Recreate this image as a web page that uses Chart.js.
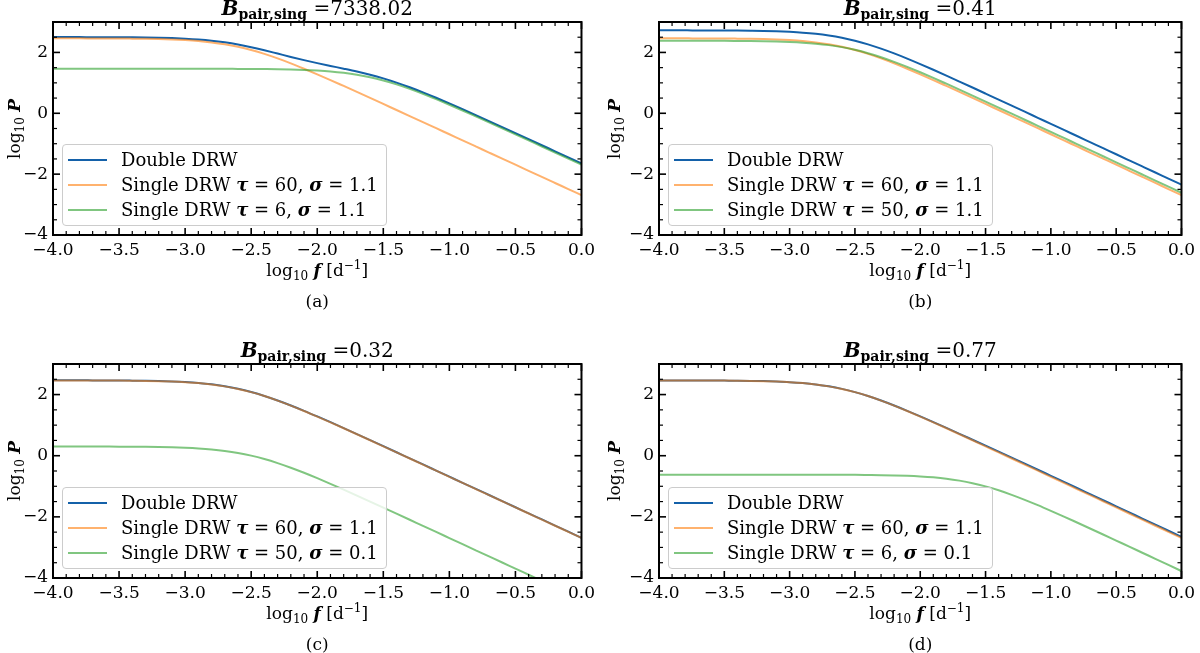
<!DOCTYPE html>
<html>
<head>
<meta charset="utf-8">
<title>DRW power spectra</title>
<script src="https://cdn.jsdelivr.net/npm/chart.js@4.4.1/dist/chart.umd.min.js"></script>
<style>
  html, body { margin: 0; padding: 0; background: #fff; }
  #page { position: relative; width: 1200px; height: 653px; overflow: hidden;
          font-family: 'DejaVu Serif', serif; color: #000; }
  .panel { position: absolute; width: 600px; height: 326px; }
  .txt { position: absolute; white-space: nowrap; line-height: 20px; font-size: 17px; }
  .title { font-size: 20px; line-height: 24px; transform: translateX(-50%); }
  .title sub { font-size: 14px; font-weight: bold; position: relative; top: 4px; vertical-align: baseline; }
  .xlab, .plab { transform: translateX(-50%); }
  .ylab { transform: translate(-50%, -50%) rotate(-90deg); }
  sub, sup { font-size: 12px; line-height: 0; }
  .legend { position: absolute; transform: translateY(-100%); background: rgba(255,255,255,0.8);
            border: 1px solid #cccccc; border-radius: 4px; padding: 2px 8px 3px 5px; font-size: 18px; }
  .legend .row { height: 25px; display: flex; align-items: center; white-space: nowrap; }
  .legend .sw { display: inline-block; width: 39px; height: 2px; margin-right: 14px; }
</style>
</head>
<body>
<div id="page"></div>
<script>
// log10 f grid shared by every curve
const logF = [-4.0, -3.9, -3.8, -3.7, -3.6, -3.5, -3.4, -3.3, -3.2, -3.1, -3.0,
  -2.9, -2.8, -2.7, -2.6, -2.5, -2.4, -2.3, -2.2, -2.1, -2.0,
  -1.9, -1.8, -1.7, -1.6, -1.5, -1.4, -1.3, -1.2, -1.1, -1.0,
  -0.9, -0.8, -0.7, -0.6, -0.5, -0.4, -0.3, -0.2, -0.1, 0.0];

// log10 P
const single60s11 = [2.462, 2.462, 2.462, 2.461, 2.459, 2.457, 2.453, 2.448, 2.439, 2.426, 2.405,
  2.375, 2.330, 2.268, 2.185, 2.079, 1.951, 1.803, 1.640, 1.464, 1.281,
  1.092, 0.898, 0.703, 0.506, 0.307, 0.108, -0.091, -0.290, -0.490, -0.690,
  -0.890, -1.090, -1.290, -1.490, -1.690, -1.890, -2.090, -2.290, -2.490, -2.690];
const single6s11 = [1.463, 1.463, 1.463, 1.463, 1.463, 1.463, 1.463, 1.463, 1.463, 1.463, 1.462,
  1.462, 1.462, 1.461, 1.459, 1.457, 1.453, 1.448, 1.439, 1.426, 1.405,
  1.375, 1.330, 1.268, 1.185, 1.079, 0.951, 0.803, 0.640, 0.464, 0.281,
  0.092, -0.102, -0.297, -0.495, -0.693, -0.892, -1.091, -1.290, -1.490, -1.690];
const doubleA = [2.504, 2.504, 2.503, 2.502, 2.501, 2.499, 2.496, 2.491, 2.483, 2.471, 2.452,
  2.425, 2.386, 2.331, 2.260, 2.172, 2.071, 1.962, 1.852, 1.747, 1.649,
  1.557, 1.467, 1.373, 1.268, 1.147, 1.009, 0.855, 0.688, 0.510, 0.325,
  0.135, -0.059, -0.255, -0.453, -0.651, -0.850, -1.050, -1.249, -1.449, -1.649];
const single50s11 = [2.383, 2.383, 2.383, 2.382, 2.381, 2.380, 2.377, 2.373, 2.367, 2.358, 2.343,
  2.321, 2.288, 2.240, 2.174, 2.086, 1.975, 1.842, 1.691, 1.525, 1.348,
  1.163, 0.972, 0.779, 0.583, 0.385, 0.187, -0.012, -0.212, -0.411, -0.611,
  -0.811, -1.011, -1.211, -1.411, -1.611, -1.811, -2.011, -2.211, -2.411, -2.611];
const doubleB = [2.726, 2.725, 2.725, 2.724, 2.723, 2.721, 2.718, 2.713, 2.706, 2.694, 2.676,
  2.650, 2.611, 2.555, 2.480, 2.383, 2.264, 2.124, 1.967, 1.797, 1.617,
  1.430, 1.238, 1.043, 0.847, 0.649, 0.450, 0.251, 0.052, -0.148, -0.348,
  -0.548, -0.747, -0.947, -1.147, -1.347, -1.547, -1.747, -1.947, -2.147, -2.347];
const single50s01 = [0.301, 0.300, 0.300, 0.299, 0.298, 0.297, 0.294, 0.290, 0.284, 0.275, 0.260,
  0.238, 0.205, 0.157, 0.091, 0.003, -0.108, -0.241, -0.392, -0.558, -0.735,
  -0.920, -1.111, -1.304, -1.500, -1.698, -1.896, -2.095, -2.295, -2.494, -2.694,
  -2.894, -3.094, -3.294, -3.494, -3.693, -3.893, -4.093, -4.293, -4.493, -4.693];
const doubleC = [2.465, 2.465, 2.465, 2.464, 2.462, 2.460, 2.456, 2.451, 2.442, 2.429, 2.408,
  2.378, 2.334, 2.272, 2.189, 2.083, 1.955, 1.807, 1.644, 1.469, 1.285,
  1.096, 0.903, 0.707, 0.510, 0.312, 0.113, -0.087, -0.286, -0.486, -0.686,
  -0.886, -1.085, -1.285, -1.485, -1.685, -1.885, -2.085, -2.285, -2.485, -2.685];
const single6s01 = [-0.620, -0.620, -0.620, -0.620, -0.620, -0.620, -0.620, -0.620, -0.620, -0.620, -0.620,
  -0.621, -0.621, -0.622, -0.624, -0.626, -0.630, -0.635, -0.644, -0.657, -0.678,
  -0.708, -0.752, -0.815, -0.898, -1.004, -1.132, -1.280, -1.443, -1.618, -1.802,
  -1.991, -2.185, -2.380, -2.577, -2.776, -2.974, -3.174, -3.373, -3.573, -3.773];
const doubleD = [2.463, 2.462, 2.462, 2.461, 2.460, 2.457, 2.454, 2.448, 2.440, 2.426, 2.406,
  2.375, 2.331, 2.269, 2.186, 2.080, 1.952, 1.805, 1.642, 1.468, 1.286,
  1.098, 0.908, 0.716, 0.522, 0.328, 0.133, -0.064, -0.261, -0.459, -0.658,
  -0.857, -1.056, -1.256, -1.456, -1.655, -1.855, -2.055, -2.255, -2.455, -2.655];

const xTicks = [-4.0, -3.5, -3.0, -2.5, -2.0, -1.5, -1.0, -0.5, 0.0];
const yTicks = [-4, -2, 0, 2];

const titleValues = ['7338.02', '0.41', '0.32', '0.77'];
const panelTags = ['(a)', '(b)', '(c)', '(d)'];
const legendLabels = [
  ['Double DRW', 'Single DRW τ = 60, σ = 1.1', 'Single DRW τ = 6, σ = 1.1'],
  ['Double DRW', 'Single DRW τ = 60, σ = 1.1', 'Single DRW τ = 50, σ = 1.1'],
  ['Double DRW', 'Single DRW τ = 60, σ = 1.1', 'Single DRW τ = 50, σ = 0.1'],
  ['Double DRW', 'Single DRW τ = 60, σ = 1.1', 'Single DRW τ = 6, σ = 0.1'],
];
const panelSeries = [
  [doubleA, single60s11, single6s11],
  [doubleB, single60s11, single50s11],
  [doubleC, single60s11, single50s01],
  [doubleD, single60s11, single6s01],
];

const lineColors = ['#1461a9', 'rgba(255,127,14,0.6)', 'rgba(44,160,44,0.6)'];

// page position of each canvas and of its plot area (left, top, right, bottom)
const boxes = [
  { left: 0, top: 0, plot: [53, 22, 582, 235] },
  { left: 600, top: 0, plot: [659, 22, 1187, 235] },
  { left: 0, top: 327, plot: [53, 364, 582, 578] },
  { left: 600, top: 327, plot: [659, 364, 1187, 578] },
];

Chart.defaults.font.family = "'DejaVu Serif', serif";
Chart.defaults.color = '#000';

const minus = (s) => s.replace('-', '\u2212');

// inward ticks on all four sides plus the frame
const frameTicks = {
  id: 'frameTicks',
  afterDatasetsDraw(chart) {
    const { ctx, chartArea: a, scales: { x, y } } = chart;
    ctx.save();
    ctx.strokeStyle = '#000';
    const seg = (x1, y1, x2, y2, w) => {
      ctx.lineWidth = w;
      ctx.beginPath();
      ctx.moveTo(x1, y1);
      ctx.lineTo(x2, y2);
      ctx.stroke();
    };
    for (let k = 0; k <= 40; k++) {
      const px = x.getPixelForValue(-4 + k * 0.1);
      const major = k % 5 === 0;
      const len = major ? 7 : 4;
      const w = major ? 1.6 : 1.2;
      seg(px, a.bottom, px, a.bottom - len, w);
      seg(px, a.top, px, a.top + len, w);
    }
    for (let k = 0; k <= 14; k++) {
      const py = y.getPixelForValue(-4 + k * 0.5);
      const major = k % 4 === 0;
      const len = major ? 7 : 4;
      const w = major ? 1.6 : 1.2;
      seg(a.left, py, a.left + len, py, w);
      seg(a.right, py, a.right - len, py, w);
    }
    ctx.lineWidth = 2;
    ctx.strokeRect(a.left, a.top, a.right - a.left, a.bottom - a.top);
    ctx.restore();
  }
};

const page = document.getElementById('page');

function addText(cls, html, left, top) {
  const el = document.createElement('div');
  el.className = 'txt ' + cls;
  el.innerHTML = html;
  el.style.left = left + 'px';
  el.style.top = top + 'px';
  page.appendChild(el);
  return el;
}

const greek = (s) => s.replace(/([τσ])/g, '<b><i>$1</i></b>');

panelSeries.forEach((series, p) => {
  const box = boxes[p];
  const [pl, pt, pr, pb] = box.plot;

  const wrap = document.createElement('div');
  wrap.className = 'panel';
  wrap.style.left = box.left + 'px';
  wrap.style.top = box.top + 'px';
  const canvas = document.createElement('canvas');
  canvas.width = 600;
  canvas.height = 326;
  wrap.appendChild(canvas);
  page.appendChild(wrap);

  const chart = new Chart(canvas, {
    type: 'line',
    data: {
      datasets: series.map((vals, i) => ({
        label: legendLabels[p][i],
        data: logF.map((f, j) => ({ x: f, y: vals[j] })),
        borderColor: lineColors[i],
        borderWidth: 2,
        pointRadius: 0,
        cubicInterpolationMode: 'monotone',
        fill: false,
        clip: 0,
        order: 3 - i,
      })),
    },
    options: {
      responsive: false,
      animation: false,
      devicePixelRatio: 1,
      layout: { padding: { left: 0, top: pt - box.top, right: box.left + 600 - pr, bottom: 0 } },
      plugins: { legend: { display: false }, tooltip: { enabled: false } },
      scales: {
        x: {
          type: 'linear', min: -4, max: 0,
          afterFit: (s) => { s.height = box.top + 326 - pb; },
          afterBuildTicks: (s) => { s.ticks = xTicks.map((v) => ({ value: v })); },
          grid: { display: false, drawTicks: false },
          border: { display: false },
          ticks: {
            autoSkip: false, maxRotation: 0, padding: 5, color: '#000',
            font: { size: 17 },
            callback: (v) => minus(Number(v).toFixed(1)),
          },
        },
        y: {
          type: 'linear', min: -4, max: 3,
          afterFit: (s) => { s.width = pl - box.left; },
          afterBuildTicks: (s) => { s.ticks = yTicks.map((v) => ({ value: v })); },
          grid: { display: false, drawTicks: false },
          border: { display: false },
          ticks: {
            autoSkip: false, padding: 5, color: '#000',
            font: { size: 17 },
            callback: (v) => minus(String(v)),
          },
        },
      },
    },
    plugins: [frameTicks],
  });

  const ca = chart.chartArea;
  const L = box.left + ca.left, R = box.left + ca.right;
  const T = box.top + ca.top, B = box.top + ca.bottom;
  const cx = (L + R) / 2;

  addText('title', '<b><i>B</i></b><sub>pair,sing</sub> =' + titleValues[p], cx, T - 26);
  addText('ylab', 'log<sub>10</sub> <b><i>P</i></b>', box.left + 14, (T + B) / 2);
  addText('xlab', 'log<sub>10</sub> <b><i>f</i></b> [d<sup>\u22121</sup>]', cx, B + 25);
  addText('plab', panelTags[p], cx, B + 56);

  const lg = document.createElement('div');
  lg.className = 'legend';
  lg.style.left = (L + 9) + 'px';
  lg.style.top = (B - 9) + 'px';
  legendLabels[p].forEach((lab, i) => {
    const row = document.createElement('div');
    row.className = 'row';
    row.innerHTML = '<span class="sw" style="background:' + lineColors[i] + '"></span><span>' + greek(lab) + '</span>';
    lg.appendChild(row);
  });
  page.appendChild(lg);
});
</script>
</body>
</html>
